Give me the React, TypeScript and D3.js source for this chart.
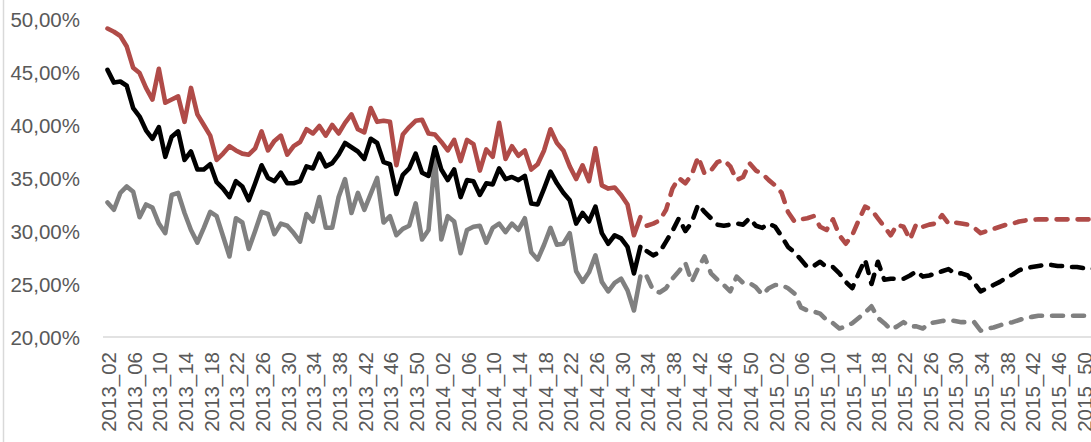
import React from "react";
import * as d3 from "d3";

// Weekly categories: 2013_02 ... 2015_52
const years = ["2013", "2014", "2015"];
const categories: string[] = [];
years.forEach((y, yi) => {
  for (let w = yi === 0 ? 2 : 1; w <= 52; w++) categories.push(`${y}_${String(w).padStart(2, "0")}`);
});

const xTickLabels = [
  "2013_02","2013_06","2013_10","2013_14","2013_18","2013_22","2013_26","2013_30","2013_34","2013_38","2013_42","2013_46","2013_50",
  "2014_02","2014_06","2014_10","2014_14","2014_18","2014_22","2014_26","2014_30","2014_34","2014_38","2014_42","2014_46","2014_50",
  "2015_02","2015_06","2015_10","2015_14","2015_18","2015_22","2015_26","2015_30","2015_34","2015_38","2015_42","2015_46","2015_50",
];

const yTicks = [20, 25, 30, 35, 40, 45, 50];

// Actual values (2013_02 .. 2014_33), solid
const redActual = [
  49.1, 48.8, 48.4, 47.4, 45.4, 44.9, 43.5, 42.4, 45.3, 42.1,
  42.4, 42.7, 40.3, 43.5, 41.0, 40.0, 39.0, 36.7, 37.3, 38.0,
  37.6, 37.3, 37.2, 37.8, 39.4, 37.6, 38.5, 39.0, 37.2, 38.0,
  38.4, 39.6, 39.2, 39.9, 39.0, 40.0, 39.2, 40.2, 41.0, 39.6,
  39.3, 41.6, 40.3, 40.4, 40.3, 36.2, 39.1, 39.8, 40.4, 40.5,
  39.2, 39.1, 38.4, 37.6, 38.6, 36.6, 38.6, 38.2, 35.7, 37.7,
  37.0, 40.2, 36.8, 38.0, 37.1, 37.6, 35.8, 36.3, 37.6, 39.6,
  38.3, 37.6, 36.1, 34.9, 36.2, 34.7, 37.8, 34.3, 34.0, 34.1,
  33.4, 32.5, 29.6, 31.3,
];
const blackActual = [
  45.2, 44.0, 44.1, 43.7, 41.6, 40.8, 39.5, 38.7, 39.8, 37.0,
  38.9, 39.4, 36.7, 37.5, 35.8, 35.8, 36.3, 34.6, 34.0, 33.2,
  34.7, 34.2, 32.9, 34.5, 36.2, 35.0, 34.7, 35.5, 34.5, 34.5,
  34.7, 36.1, 35.9, 37.3, 36.1, 36.4, 37.2, 38.3, 37.9, 37.5,
  36.8, 38.7, 38.3, 36.5, 36.3, 33.5, 35.3, 35.9, 37.3, 35.5,
  35.2, 37.9, 35.8, 34.8, 35.8, 33.2, 34.8, 34.7, 33.4, 34.5,
  34.4, 35.9, 34.9, 35.1, 34.8, 35.2, 32.6, 32.5, 34.0, 35.6,
  34.5, 33.6, 32.9, 30.7, 31.7, 30.9, 32.3, 29.8, 28.8, 29.6,
  29.3, 28.5, 26.0, 28.5,
];
const grayActual = [
  32.7, 32.0, 33.6, 34.2, 33.7, 31.3, 32.5, 32.2, 30.7, 29.8,
  33.4, 33.6, 31.7, 30.1, 28.9, 30.3, 31.8, 31.4, 29.5, 27.6,
  31.2, 30.8, 28.3, 30.0, 31.8, 31.6, 29.7, 30.7, 30.5, 29.8,
  29.0, 31.6, 30.9, 33.2, 30.3, 30.3, 33.2, 34.9, 31.7, 33.6,
  32.0, 33.5, 35.0, 30.8, 31.4, 29.6, 30.2, 30.5, 32.6, 29.2,
  30.1, 36.8, 29.2, 31.4, 30.9, 27.9, 30.1, 30.4, 30.5, 28.9,
  30.3, 30.7, 29.9, 30.7, 30.1, 31.2, 28.0, 27.3, 28.7, 30.3,
  28.7, 28.8, 29.8, 26.2, 25.2, 26.1, 27.7, 25.2, 24.3, 25.1,
  25.5, 24.4, 22.5, 25.7,
];

// Forecast values (2014_34 .. 2015_52), dashed
const redForecast = [
  30.5, 30.7, 31.0, 32.0, 34.0, 35.0, 34.5, 35.3, 37.0, 35.4,
  35.7, 36.5, 36.7, 36.1, 34.8, 35.1, 36.4, 35.7, 35.4, 34.8,
  34.3, 33.6, 31.8, 30.9, 31.1, 31.2, 31.4, 30.4, 30.1, 31.1,
  29.6, 28.8, 29.6, 31.0, 32.3, 32.0, 31.2, 30.4, 29.6, 30.6,
  30.4, 29.2, 30.7, 30.4, 30.6, 30.7, 31.5, 30.7, 30.8, 30.7,
  30.6, 30.3, 29.8, 30.0, 30.2, 30.4, 30.6, 30.7, 30.9, 31.0,
  31.05, 31.1, 31.1, 31.1, 31.1, 31.1, 31.1, 31.1, 31.1, 31.1,
  31.1,
];
const blackForecast = [
  28.1, 27.7, 28.0, 29.0, 30.0, 31.2, 30.0, 30.8, 32.5, 31.8,
  31.2, 30.6, 30.5, 30.6, 30.7, 30.6, 31.2, 30.5, 30.3, 30.7,
  30.4, 29.5, 28.5, 28.0, 27.3, 26.6, 26.7, 27.1, 26.6, 26.6,
  26.0, 25.2, 24.6, 26.0, 27.3, 25.0, 27.1, 25.4, 25.5, 25.5,
  25.5, 25.8, 26.2, 25.7, 25.8, 26.0, 26.2, 26.4, 26.0, 26.0,
  25.8, 25.1, 24.3, 24.6, 24.9, 25.2, 25.6, 25.9, 26.3, 26.5,
  26.6, 26.7, 26.8, 26.8, 26.7, 26.7, 26.6, 26.6, 26.5, 26.5,
  26.4,
];
const grayForecast = [
  25.7, 24.4, 24.2, 24.6, 25.5, 26.2, 27.0, 25.2, 26.5, 27.6,
  26.0, 25.4, 24.9, 24.3, 25.7, 25.1, 25.1, 24.7, 24.0, 24.6,
  24.9, 24.9, 24.6, 24.1, 22.8, 22.5, 22.4, 22.2, 21.6, 21.3,
  20.8, 21.0, 21.3, 21.8, 22.3, 22.9, 21.8, 21.3, 20.7, 21.0,
  21.4, 21.0, 21.0, 20.8, 21.3, 21.4, 21.5, 21.6, 21.5, 21.4,
  21.4, 21.4, 20.6, 20.8, 20.9, 21.1, 21.3, 21.4, 21.6, 21.8,
  21.9, 22.0, 22.0, 22.0, 22.0, 22.0, 22.0, 22.0, 22.0, 22.0,
  22.0,
];

const seriesDefs = [
  { name: "gray", color: "#808080", actual: grayActual, forecast: grayForecast },
  { name: "black", color: "#000000", actual: blackActual, forecast: blackForecast },
  { name: "red", color: "#B04B48", actual: redActual, forecast: redForecast },
];

const W = 1091;
const H = 442;
const step = 6.42;
const x0 = 107.5;

export default function App() {
  const x = d3
    .scalePoint<string>()
    .domain(categories)
    .range([x0, x0 + step * (categories.length - 1)])
    .padding(0);
  const y = d3.scaleLinear().domain([20, 50]).range([337, 19]);

  const line = d3
    .line<{ c: string; v: number }>()
    .x((d) => x(d.c) as number)
    .y((d) => y(d.v));

  const nA = redActual.length;
  const fmt = (v: number) => v.toFixed(2).replace(".", ",") + "%";

  return (
    <svg
      width={W}
      height={H}
      style={{ position: "absolute", left: 0, top: 0, background: "#fff" }}
      fontFamily="'Liberation Sans', Arial, sans-serif"
    >
      <rect x={0} y={0} width={W} height={H} fill="#fff" />
      <line x1={3.5} x2={3.5} y1={0} y2={H} stroke="#D9D9D9" strokeWidth={1.5} />
      {yTicks.map((t) => (
        <text
          key={t}
          x={80}
          y={y(t)}
          textAnchor="end"
          dominantBaseline="central"
          fontSize={20.5}
          fill="#595959"
        >
          {fmt(t)}
        </text>
      ))}
      <line x1={103} x2={W} y1={y(20)} y2={y(20)} stroke="#D9D9D9" strokeWidth={1.5} />
      {xTickLabels.map((lab) => {
        const cx = x(lab) as number;
        return (
          <text
            key={lab}
            transform={`translate(${cx + 1},${352}) rotate(-90)`}
            textAnchor="end"
            dominantBaseline="central"
            fontSize={20.5}
            fill="#595959"
          >
            {lab}
          </text>
        );
      })}
      {seriesDefs.map((s) => {
        const actualPts = s.actual.map((v, i) => ({ c: categories[i], v }));
        const fcPts = s.forecast.map((v, i) => ({ c: categories[nA + i], v }));
        return (
          <g key={s.name}>
            <path
              d={line(actualPts) || ""}
              fill="none"
              stroke={s.color}
              strokeWidth={4.6}
              strokeLinejoin="round"
              strokeLinecap="round"
            />
            <path
              d={line(fcPts) || ""}
              fill="none"
              stroke={s.color}
              strokeWidth={4.6}
              strokeLinejoin="round"
              strokeLinecap="round"
              strokeDasharray="11 10"
            />
          </g>
        );
      })}
    </svg>
  );
}
